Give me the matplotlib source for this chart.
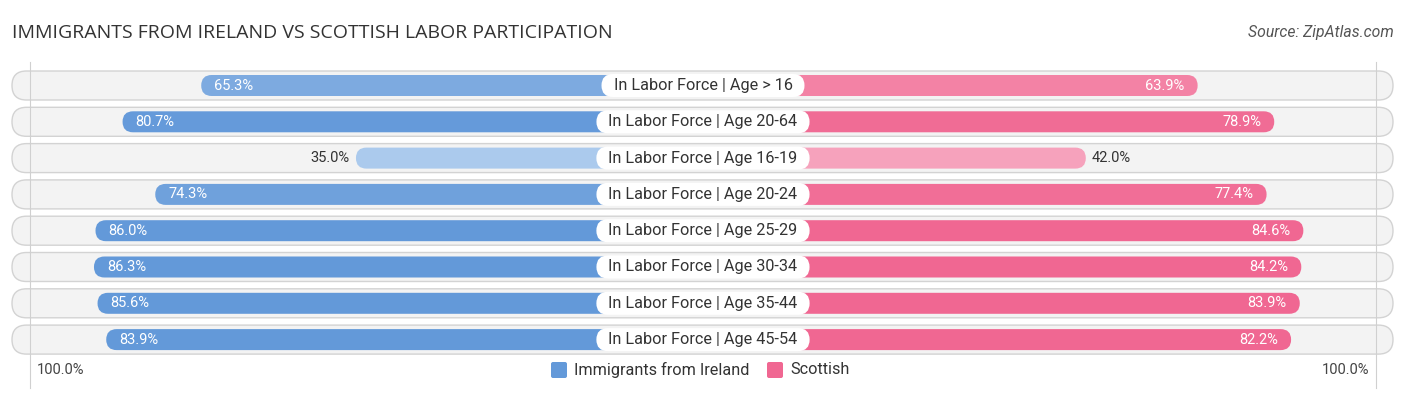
import matplotlib
matplotlib.use("Agg")
import matplotlib.pyplot as plt
from matplotlib.patches import FancyBboxPatch
from matplotlib.colors import to_rgb

categories = [
    "In Labor Force | Age > 16",
    "In Labor Force | Age 20-64",
    "In Labor Force | Age 16-19",
    "In Labor Force | Age 20-24",
    "In Labor Force | Age 25-29",
    "In Labor Force | Age 30-34",
    "In Labor Force | Age 35-44",
    "In Labor Force | Age 45-54",
]
ireland = [65.3, 80.7, 35.0, 74.3, 86.0, 86.3, 85.6, 83.9]
scottish = [63.9, 78.9, 42.0, 77.4, 84.6, 84.2, 83.9, 82.2]
series_names = ["Immigrants from Ireland", "Scottish"]

W, H = 1406, 395
CX = 703          # center of the chart in px
PX_PER_PCT = 5.107
BAR_OFFSET = 168.3  # part of each bar hidden behind the center label
ROW_Y0, ROW_STEP = 85.5, 36.3
TY = -1.5  # small lift so text sits centered in the bars

BLUE = "#6399d9"
BLUE_LIGHT = "#b3cfef"
PINK = "#f06792"
PINK_LIGHT = "#f8b4c9"


def shade(full, light, v):
    t = min(max((v - 30) / 52.0, 0), 1)
    a, b = to_rgb(light), to_rgb(full)
    return tuple(a[i] + (b[i] - a[i]) * t for i in range(3))


plt.rcParams["font.family"] = ["Roboto", "DejaVu Sans"]
fig = plt.figure(figsize=(W / 100, H / 100), dpi=100)
ax = fig.add_axes([0, 0, 1, 1])
ax.set_xlim(0, W)
ax.set_ylim(H, 0)
ax.axis("off")
renderer = fig.canvas.get_renderer()

# 100% guide lines
x100 = 673
for gx in (CX - x100, CX + x100):
    ax.plot([gx, gx], [62, 388], color="#d0d0d0", lw=0.8, zorder=2)

for i, cat in enumerate(categories):
    y = ROW_Y0 + i * ROW_STEP
    # row background
    ax.add_patch(FancyBboxPatch((12, y - 14.5), 1381, 29,
                                boxstyle="round,pad=0,rounding_size=14.5",
                                fc="#f3f3f3", ec="#d3d3d3", lw=1.0, zorder=1))
    bh = 21
    # left bar
    lv = ireland[i]
    lw_ = BAR_OFFSET + PX_PER_PCT * lv
    ax.add_patch(FancyBboxPatch((CX - lw_, y - bh / 2), lw_, bh,
                                boxstyle="round,pad=0,rounding_size=10.5",
                                fc=shade(BLUE, BLUE_LIGHT, lv), ec="none", zorder=3))
    # right bar
    rv = scottish[i]
    rw = BAR_OFFSET + PX_PER_PCT * rv
    ax.add_patch(FancyBboxPatch((CX, y - bh / 2), rw, bh,
                                boxstyle="round,pad=0,rounding_size=10.5",
                                fc=shade(PINK, PINK_LIGHT, rv), ec="none", zorder=3))
    # value labels
    if lv >= 50:
        ax.text(CX - lw_ + 13, y + TY, f"{lv:.1f}%", color="white", fontsize=10.5,
                ha="left", va="center_baseline", zorder=5)
    else:
        ax.text(CX - lw_ - 6, y + TY, f"{lv:.1f}%", color="#333333", fontsize=10.5,
                ha="right", va="center_baseline", zorder=5)
    if rv >= 50:
        ax.text(CX + rw - 13, y + TY, f"{rv:.1f}%", color="white", fontsize=10.5,
                ha="right", va="center_baseline", zorder=5)
    else:
        ax.text(CX + rw + 6, y + TY, f"{rv:.1f}%", color="#333333", fontsize=10.5,
                ha="left", va="center_baseline", zorder=5)
    # center label in a white pill
    t = ax.text(CX, y + TY, cat, fontsize=11.7, color="#333333", ha="center",
                va="center_baseline", zorder=7)
    tw = t.get_window_extent(renderer).width
    pw, ph = tw + 24, 23
    ax.add_patch(FancyBboxPatch((CX - pw / 2, y - ph / 2), pw, ph,
                                boxstyle="round,pad=0,rounding_size=11.5",
                                fc="white", ec="none", zorder=6))

# title and source
ax.text(12, 33, "IMMIGRANTS FROM IRELAND VS SCOTTISH LABOR PARTICIPATION",
        fontsize=14, color="#333333", ha="left", va="center", family="Open Sans")
ax.text(1394, 33, "Source: ZipAtlas.com", fontsize=11.3, color="#555555",
        ha="right", va="center", style="italic")

# bottom axis labels
ax.text(37, 370 + TY, "100.0%", fontsize=10.5, color="#444444", ha="left",
        va="center_baseline")
ax.text(1369, 370 + TY, "100.0%", fontsize=10.5, color="#444444", ha="right",
        va="center_baseline")

# legend
ax.add_patch(FancyBboxPatch((551, 362), 16, 16, boxstyle="round,pad=0,rounding_size=2",
                            fc=BLUE, ec="none"))
ax.text(574, 370 + TY, series_names[0], fontsize=11.7, color="#333333", ha="left",
        va="center_baseline")
ax.add_patch(FancyBboxPatch((767, 362), 16, 16, boxstyle="round,pad=0,rounding_size=2",
                            fc=PINK, ec="none"))
ax.text(790, 370 + TY, series_names[1], fontsize=11.7, color="#333333", ha="left",
        va="center_baseline")

fig.savefig("out.png", dpi=100)
plt.close(fig)
